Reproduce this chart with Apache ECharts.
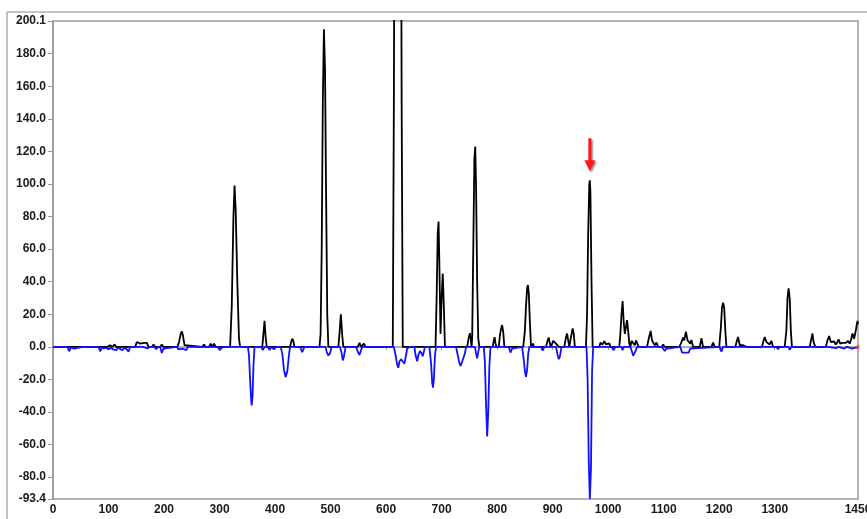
<!DOCTYPE html>
<html>
<head>
<meta charset="utf-8">
<script src="https://cdn.jsdelivr.net/npm/echarts@6/dist/echarts.min.js"></script>
<style>
html,body{margin:0;padding:0;background:#fff;}
#chart{width:867px;height:519px;}
</style>
</head>
<body>
<div id="chart"></div>
<script>
// Tick values
const xTicks = [0,100,200,300,400,500,600,700,800,900,1000,1100,1200,1300,1450];
const yTicks = [-93.4,-80,-60,-40,-20,0,20,40,60,80,100,120,140,160,180,200.1];
const xRange = [0, 1450];
const yRange = [-93.4, 200.1];

// Black (positive) trace: [x, y]
const blackTrace = [
[0,0],[98,0],[103,1],[107,0],[109,0],[111,1.5],[114,0],[129,0],[132,1],[135,0],
[148,0],[151,3],[154,4],[157,2],[160,1],[164,2.5],[166,1.5],[169,2.5],[172,0],[178,0],[181,1.5],[184,0],[193,0],[196,1.5],[199,0],[205,0],[208,1],[211,0],
[224,0],[227,3],[230,8],[232,9.6],[234,7],[237,1],[239,0],
[269,0],[272,1.5],[275,0],[281,0],[284,2],[287,0],[290,2],[293,0],
[319,0],[322,25],[325,80],[327,99],[329,85],[332,40],[335,5],[337,0],
[377,0],[379,8],[381,16],[383,6],[385,0],
[427,0],[429,3],[431,5],[433,3.5],[435,0],
[480,0],[482,8],[484,60],[486,150],[488,195],[490,170],[492,90],[494,20],[496,0],
[514,0],[516,8],[518.5,20],[521,7],[523,0],
[549,0],[552,2.5],[555,0],[557,0],[560,2],[563,0],
[612,0],[614,150],[616,400],[621,600],[626,400],[628,150],[630,0],
[689,0],[691,30],[693,70],[694.5,77],[696,50],[698,8],[700,30],[702,45],[704,25],[706,0],
[746,0],[749,6],[751,8.4],[753,3],[754,0],[755,5],[757,60],[759,115],[760.5,123],[762,100],[764,40],[766,5],[768,0],
[792,0],[794,4],[795.5,6],[797,2],[799,0],[803,0],[805,7],[807,11],[809,13.4],[811,9],[813,0],
[847,0],[850,10],[852,25],[854,36],[855.5,38],[857,33],[859,15],[861,0],[864,0],[865,2],[866,0],
[888,0],[891,4],[893,5.7],[895,2],[897,0],[901,3.7],[903,3.7],[906,2],[909,2.7],[911,0],
[921,0],[924,6],[926,8.2],[928,4],[930,0],[933,6],[936,11.3],[938,8],[940,0],
[960,0],[962,20],[964,70],[966,100],[967,102.3],[968,95],[970,40],[972,0],
[984,0],[986,2.5],[988,3.3],[990,1.5],[993,3.6],[996,1.5],[999,1],[1002,2.2],[1004,0],
[1020,0],[1022,8],[1024,20],[1026,28.2],[1028,15],[1030,8],[1032,12],[1034,16.4],[1036,10],[1038,2],[1040,0],[1042,3.7],[1045,3.7],[1048,1],[1050,4],[1053,3],[1055,0],
[1070,0],[1073,5],[1076.5,9.8],[1079,4],[1081,2.7],[1084,1],[1087,2.7],[1090,0],[1096,0],[1099,1.5],[1102,0],
[1128,0],[1131,2],[1135,5.7],[1137,4],[1140,9.4],[1143,4],[1146,4],[1148,2],[1150,4.3],[1153,0],
[1165,0],[1168,5.3],[1171,0],[1186,0],[1189,2.7],[1192,0],
[1200,0],[1203,12],[1205,24],[1207,27.2],[1209,24],[1211,10],[1213,0],
[1229,0],[1232,4],[1234,6.1],[1237,1],[1240,1.5],[1243,1],[1246,2],[1249,0],
[1277,0],[1280,4],[1282,6.1],[1285,3],[1288,2],[1291,1.5],[1294,3.7],[1297,0],
[1318,0],[1321,10],[1323,30],[1325,36],[1327,30],[1329,10],[1331,0],
[1363,0],[1366,5],[1368,8.2],[1370,3],[1373,0],
[1392,0],[1395,4],[1398,6.7],[1401,3],[1404,2],[1407,3.3],[1410,1.5],[1413,3],[1415,4.7],[1418,2],[1422,2.5],[1425,1.5],[1428,2.5],[1432,3.7],[1435,2],[1438,5],[1440,8.2],[1443,5],[1446,10],[1449,16],[1450,14]
];

// Blue (negative) trace: [x, y]
const blueTrace = [
[0,0],[20,0],[23,-1],[26,0],[27,-1],[29,-2.7],[32,-0.5],[35,-0.5],[38,-1],[41,0],[53,0],[55,-1],[57,0],
[82,0],[85,-2.7],[88,-0.5],[92,-1],[96,-0.5],[100,-1.5],[104,-0.5],[108,-1.5],[111,-1],[114,-2],[117,-0.5],[120,-1],[125,-2],[129,-0.5],[133,-1.5],[136,-3],[139,0],
[156,0],[159,-1],[162,0],[170,-1],[174,0],[183,0],[186,-1.5],[189,0],[193,0],[196,-3.7],[199,-1],[202,0],
[223,0],[226,-1.6],[229,-0.5],[233,-1],[236,-1.5],[240,-2],[243,0],
[297,0],[300,-2],[303,-1],[306,0],
[351,0],[353,-5],[355,-20],[357,-33],[358,-36],[359.5,-30],[361,-12],[363,0],
[375,0],[378,-2],[381,0],[387,0],[390,-2],[393,0],[396,0],[398,-1.5],[401,0],
[410,0],[413,-4],[416,-14],[419,-18.6],[422,-15],[425,-5],[427,0],
[445,0],[449,-3.3],[453,0],[469,0],[471,-1],[474,0],
[491,0],[493,-3],[496,-5.3],[499,-4],[502,0],
[517,0],[520,-4],[522,-8.3],[524,-6],[527,0],
[546,0],[549,-3],[552,-5],[555,-2],[557,0],[577,0],[580,-1],[583,0],
[614,0],[617,-5],[620,-11],[622,-12.8],[624,-9],[627,-7.6],[630,-9],[633,-10.3],[636,-5],[638,-1],[641,-1],[643,0],
[651,0],[653,-5],[656,-8.8],[658,-5],[661,-2.6],[664,-4],[666,-5.7],[668,-3],[670,0],
[678,0],[681,-10],[683,-22],[684.5,-25],[686,-20],[688,-5],[690,0],
[726,0],[729,-5],[732,-10],[734,-11.7],[736,-10],[738,-8],[740,-9],[742,-4],[744,0],
[760,0],[762,-4],[764,-7],[766,-3],[768,0],
[776,0],[778,-10],[780,-35],[782,-55],[784,-40],[786,-12],[788,0],
[821,0],[824,-3.5],[827,-1],[829,0],
[845,0],[848,-8],[850,-15],[852,-18.4],[854,-14],[856,-4],[858,0],
[879,0],[882,-2.3],[885,0],
[906,0],[909,-5],[911,-7.6],[913,-6],[916,0],
[948,0],[951,-1],[954,0],
[961,0],[963,-20],[965,-70],[967,-93.4],[969,-75],[971,-15],[973,0],
[1006,0],[1010,-2],[1013,0],[1024,0],[1026,-2],[1028,0],
[1040,0],[1043,-3],[1045,-5.5],[1048,-5.5],[1050,-2],[1052,0],
[1097,0],[1100,-1],[1102,-2.5],[1105,-1],[1108,0],
[1130,0],[1133,-3.5],[1136,-2.5],[1139,-3.5],[1142,-3],[1145,-3.5],[1148,-1],[1150,0],
[1201,0],[1204,-2.9],[1207,0],
[1303,0],[1306,-1.4],[1309,0],[1325,0],[1327,-1.8],[1330,0],
[1390,0],[1393,-0.8],[1397,0],[1410,-0.8],[1415,0],[1425,-1],[1430,0],[1440,-1],[1445,-0.5],[1450,-0.5]
];

// Marked peak (red arrow) and end marker
const arrowAt = [967, 118];
const endMarker = [[1450, 0]];

const chart = echarts.init(document.getElementById('chart'), null, {renderer: 'canvas'});
const labelFont = {fontFamily: 'Liberation Sans, Arial, sans-serif', fontSize: 12, fontWeight: 'bold', color: '#1a1a1a'};
const axisGray = '#9a9a9a';

chart.setOption({
  animation: false,
  backgroundColor: '#fff',
  grid: {left: 53, right: 9, top: 21, bottom: 20, show: true, borderColor: axisGray, borderWidth: 1.5,
    containLabel: false, outerBoundsMode: 'none'},
  xAxis: {
    type: 'value', min: xRange[0], max: xRange[1],
    splitLine: {show: false},
    axisLine: {show: true, lineStyle: {color: axisGray, width: 1.5}},
    axisTick: {show: true, length: 3, customValues: xTicks, lineStyle: {color: axisGray}},
    axisLabel: Object.assign({customValues: xTicks, margin: 5, showMinLabel: true, showMaxLabel: true, hideOverlap: false,
      formatter: v => String(Math.round(v))}, labelFont)
  },
  yAxis: {
    type: 'value', min: yRange[0], max: yRange[1],
    splitLine: {show: false},
    axisLine: {show: true, onZero: false, lineStyle: {color: axisGray, width: 1.5}},
    axisTick: {show: true, length: 5, customValues: yTicks, lineStyle: {color: axisGray}},
    axisLabel: Object.assign({customValues: yTicks, margin: 7, showMinLabel: true, showMaxLabel: true, hideOverlap: false,
      formatter: v => Number(v).toFixed(1)}, labelFont)
  },
  graphic: [
    {type: 'line', shape: {x1: 7, y1: 12, x2: 867, y2: 12}, style: {stroke: '#b0b0b0', lineWidth: 1.5}, silent: true},
    {type: 'line', shape: {x1: 7, y1: 12, x2: 7, y2: 519}, style: {stroke: '#b0b0b0', lineWidth: 1.5}, silent: true}
  ],
  series: [
    {
      type: 'line', data: blackTrace, showSymbol: false, symbol: 'none', clip: true,
      lineStyle: {color: '#000', width: 1.8}, z: 2,
      markPoint: {
        symbol: 'path://M4,0 L7,0 L7,22 L11,22 L5.5,33 L0,22 L4,22 Z',
        symbolSize: [11, 33],
        itemStyle: {color: '#ff1a1a', shadowColor: 'rgba(0,0,0,0.45)', shadowBlur: 2, shadowOffsetX: 1.5, shadowOffsetY: 1.5},
        label: {show: false},
        data: [{coord: arrowAt}]
      }
    },
    {
      type: 'line', data: blueTrace, showSymbol: false, symbol: 'none', clip: true,
      lineStyle: {color: '#1010ff', width: 1.8}, z: 3
    },
    {
      type: 'scatter', data: endMarker, symbol: 'rect', symbolSize: [3, 4],
      itemStyle: {color: '#ff4040'}, z: 4, clip: false
    }
  ]
});
</script>
</body>
</html>
